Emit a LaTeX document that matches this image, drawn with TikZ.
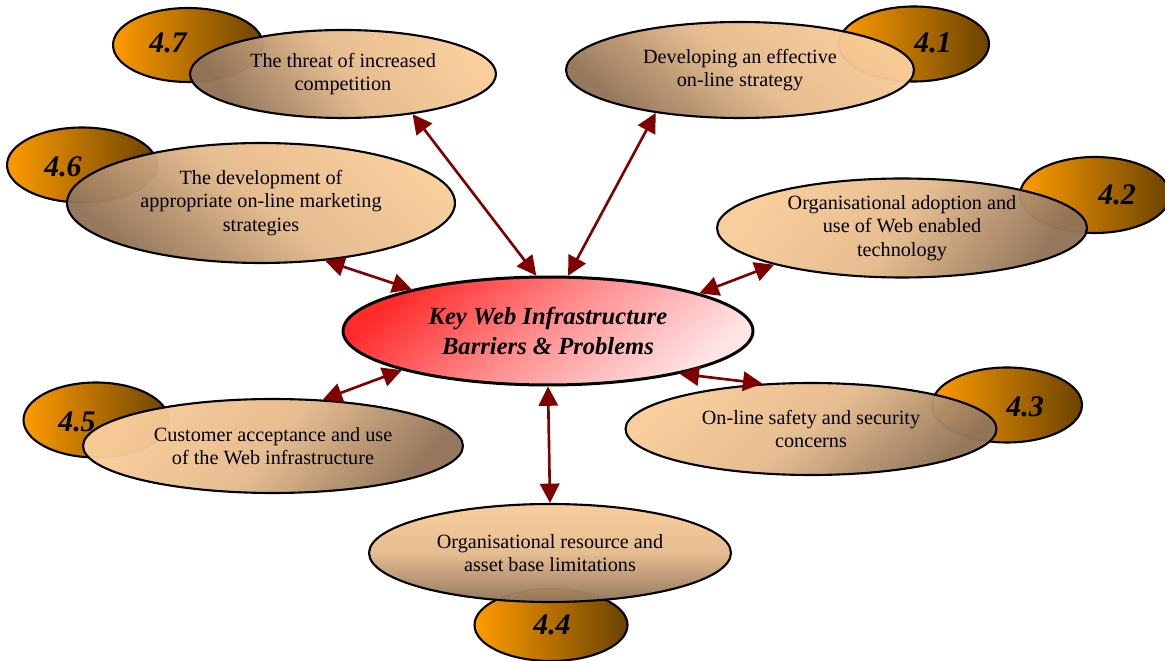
\documentclass[tikz,border=0pt]{standalone}
\usepackage{fontspec}
\setmainfont{Liberation Serif}
\usetikzlibrary{shapes.geometric, arrows.meta}
\definecolor{topiclight}{HTML}{F9CC9A}
\definecolor{topicdark}{HTML}{927458}
\definecolor{numorange}{HTML}{FF9B00}
\definecolor{numbrown}{HTML}{6B4300}
\definecolor{keyred}{HTML}{FF2B2B}
\definecolor{keypink}{HTML}{FFE4E6}
\definecolor{linkred}{HTML}{800000}
\tikzset{
  keyball/.style = {ellipse, draw=black, line width=1.7pt, inner sep=0pt,
                    top color=keyred, bottom color=keypink,
                    middle color=keyred!45!keypink, align=center,
                    font=\fontsize{14}{17}\selectfont\bfseries\itshape},
  topic/.style   = {ellipse, draw=black, line width=1.2pt, inner sep=0pt,
                    top color=topiclight, bottom color=topicdark,
                    middle color=topiclight!80!topicdark,
                    fill opacity=0.97, text opacity=1, align=center,
                    font=\fontsize{11.5}{13.4}\selectfont},
  numball/.style = {ellipse, draw=black, line width=1.2pt, inner sep=0pt,
                    left color=numorange, right color=numbrown,
                    minimum width=3cm, minimum height=1.5cm},
  numtxt/.style  = {font=\fontsize{17}{20}\selectfont\bfseries\itshape, inner sep=0pt},
  link/.style    = {draw=linkred, line width=1.5pt, >={Triangle[length=11pt, width=11pt]}, <->},
}

\begin{document}
\begin{tikzpicture}[x=0.02cm, y=-0.02cm]
\useasboundingbox (0,0) rectangle (1165,661);

% Number balls behind the topics
\node (n1) [numball] at (914,44) {};
\node (n2) [numball, minimum height=1.52cm] at (1095,195) {};
\node (n3) [numball] at (1007,405) {};
\node (n4) [numball, minimum width=3.06cm, minimum height=1.44cm] at (551,625) {};
\node (n5) [numball, minimum width=2.9cm] at (96,420) {};
\node (n6) [numball] at (82,165) {};
\node (n7) [numball, minimum height=1.48cm] at (188,45) {};

\node [numtxt] at (933,43) {4.1};
\node [numtxt] at (1117,195) {4.2};
\node [numtxt] at (1025,407) {4.3};
\node [numtxt] at (552,625) {4.4};
\node [numtxt] at (77,422) {4.5};
\node [numtxt] at (63,167) {4.6};
\node [numtxt] at (168,43) {4.7};

% Topics
\node (t1) [topic, minimum width=6.96cm, minimum height=1.92cm, shading angle=-40] at (740,70)
  {Developing an effective\\on-line strategy};
\node (t2) [topic, minimum width=7.4cm, minimum height=1.98cm, shading angle=55] at (902,228)
  {Organisational adoption and\\use of Web enabled\\technology};
\node (t3) [topic, minimum width=7.42cm, minimum height=1.84cm, shading angle=40] at (811,429)
  {On-line safety and security\\concerns};
\node (t4) [topic, minimum width=7.24cm, minimum height=1.96cm] at (550,553)
  {Organisational resource and\\asset base limitations};
\node (t5) [topic, minimum width=7.6cm, minimum height=1.88cm, shading angle=50] at (273,446)
  {Customer acceptance and use\\of the Web infrastructure};
\node (t6) [topic, minimum width=7.76cm, minimum height=2.4cm, shading angle=-40] at (261,203)
  {The development of\\appropriate on-line marketing\\strategies};
\node (t7) [topic, minimum width=6.12cm, minimum height=1.76cm, shading angle=-55] at (343,74)
  {The threat of increased\\competition};

% Central barrier
\node (key) [keyball, minimum width=8.2cm, minimum height=2.16cm, shading angle=40] at (548,331)
  {Key Web Infrastructure\\Barriers \& Problems};

% Links
\draw [link] (key.70)  -- (t1.-153);
\draw [link] (key.14)  -- (t2.196);
\draw [link] (key.-18) -- (t3.137);
\draw [link] (key.south) -- (t4.north);
\draw [link] (key.195) -- (t5.43);
\draw [link] (key.163) -- (t6.-42);
\draw [link] (key.102) -- (t7.-30);

\end{tikzpicture}
\end{document}
